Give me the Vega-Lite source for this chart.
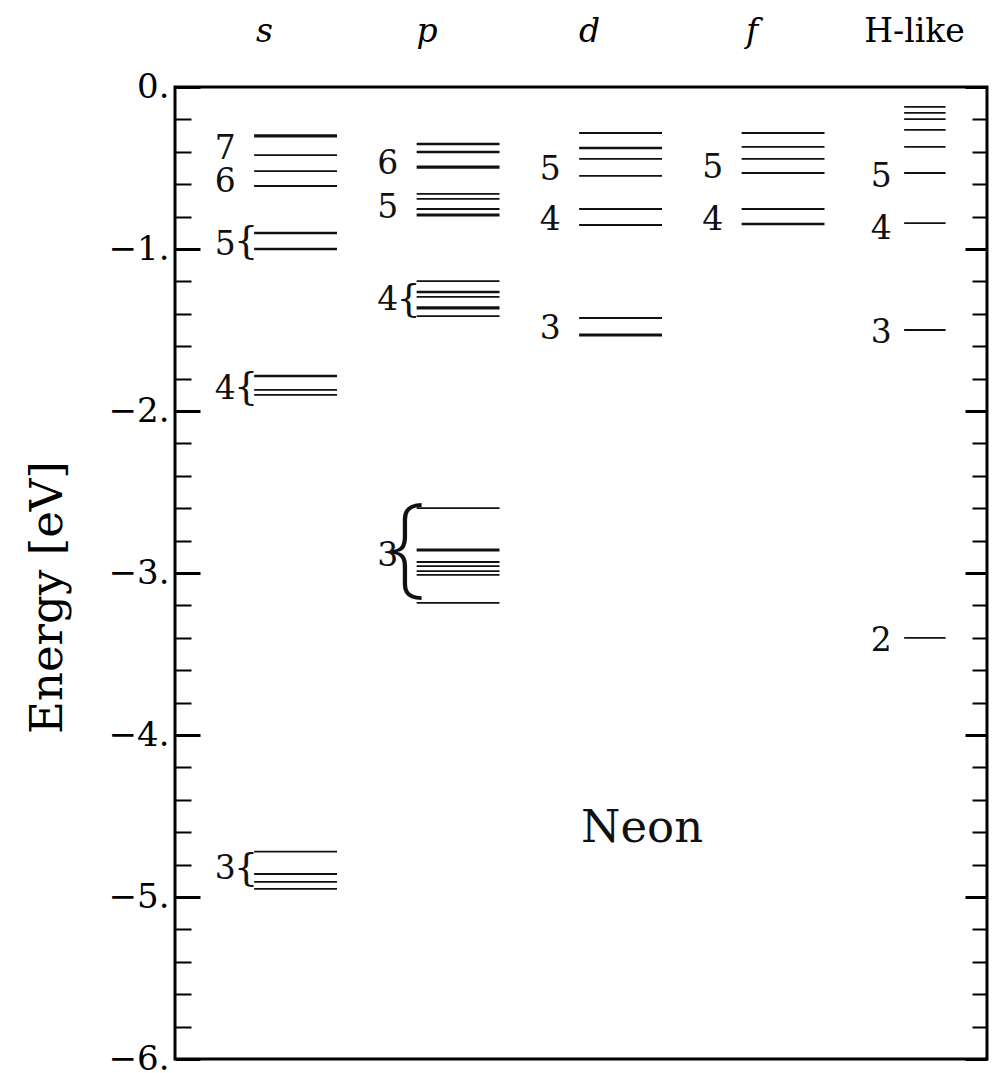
{
  "$schema": "https://vega.github.io/schema/vega-lite/v6.json",
  "autosize": {"type": "none"},
  "padding": {"left": 175, "top": 87, "right": 6, "bottom": 14},
  "width": 812,
  "height": 972,
  "background": "white",
  "config": {"view": {"stroke": "black", "strokeWidth": 3}},
  "datasets": {
    "levels": [
      {"col": "s", "E": -0.302, "w": 3}, {"col": "s", "E": -0.42, "w": 1}, {"col": "s", "E": -0.519, "w": 1}, {"col": "s", "E": -0.611, "w": 1},
      {"col": "s", "E": -0.901, "w": 2}, {"col": "s", "E": -1.0, "w": 2},
      {"col": "s", "E": -1.784, "w": 2}, {"col": "s", "E": -1.87, "w": 1}, {"col": "s", "E": -1.9, "w": 1},
      {"col": "s", "E": -4.72, "w": 1}, {"col": "s", "E": -4.858, "w": 1}, {"col": "s", "E": -4.907, "w": 1}, {"col": "s", "E": -4.95, "w": 1},
      {"col": "p", "E": -0.352, "w": 2}, {"col": "p", "E": -0.401, "w": 2}, {"col": "p", "E": -0.494, "w": 3},
      {"col": "p", "E": -0.66, "w": 1}, {"col": "p", "E": -0.691, "w": 1}, {"col": "p", "E": -0.753, "w": 1}, {"col": "p", "E": -0.79, "w": 3},
      {"col": "p", "E": -1.198, "w": 1}, {"col": "p", "E": -1.265, "w": 2}, {"col": "p", "E": -1.296, "w": 1}, {"col": "p", "E": -1.364, "w": 3}, {"col": "p", "E": -1.414, "w": 1},
      {"col": "p", "E": -2.599, "w": 1}, {"col": "p", "E": -2.858, "w": 3}, {"col": "p", "E": -2.932, "w": 1}, {"col": "p", "E": -2.957, "w": 1},
      {"col": "p", "E": -2.988, "w": 1}, {"col": "p", "E": -3.012, "w": 1}, {"col": "p", "E": -3.185, "w": 1},
      {"col": "d", "E": -0.284, "w": 1}, {"col": "d", "E": -0.377, "w": 2}, {"col": "d", "E": -0.444, "w": 1}, {"col": "d", "E": -0.549, "w": 1},
      {"col": "d", "E": -0.753, "w": 1}, {"col": "d", "E": -0.852, "w": 1}, {"col": "d", "E": -1.426, "w": 1}, {"col": "d", "E": -1.531, "w": 3},
      {"col": "f", "E": -0.284, "w": 1}, {"col": "f", "E": -0.37, "w": 1}, {"col": "f", "E": -0.444, "w": 1}, {"col": "f", "E": -0.531, "w": 1},
      {"col": "f", "E": -0.753, "w": 1}, {"col": "f", "E": -0.846, "w": 2},
      {"col": "H-like", "E": -0.123, "w": 1}, {"col": "H-like", "E": -0.16, "w": 1}, {"col": "H-like", "E": -0.198, "w": 1},
      {"col": "H-like", "E": -0.265, "w": 1}, {"col": "H-like", "E": -0.37, "w": 1}, {"col": "H-like", "E": -0.531, "w": 1},
      {"col": "H-like", "E": -0.84, "w": 1}, {"col": "H-like", "E": -1.5, "w": 1}, {"col": "H-like", "E": -3.4, "w": 1}
    ],
    "numbers": [
      {"col": "s", "n": "7", "E": -0.383}, {"col": "s", "n": "6", "E": -0.586}, {"col": "s", "n": "5", "E": -0.975},
      {"col": "s", "n": "4", "E": -1.864}, {"col": "s", "n": "3", "E": -4.827},
      {"col": "p", "n": "6", "E": -0.478}, {"col": "p", "n": "5", "E": -0.747}, {"col": "p", "n": "4", "E": -1.315}, {"col": "p", "n": "3", "E": -2.895},
      {"col": "d", "n": "5", "E": -0.512}, {"col": "d", "n": "4", "E": -0.82}, {"col": "d", "n": "3", "E": -1.494},
      {"col": "f", "n": "5", "E": -0.5}, {"col": "f", "n": "4", "E": -0.82},
      {"col": "H-like", "n": "5", "E": -0.556}, {"col": "H-like", "n": "4", "E": -0.877}, {"col": "H-like", "n": "3", "E": -1.519}, {"col": "H-like", "n": "2", "E": -3.42}
    ],
    "braces": [
      {"col": "s", "n": "5", "E": -0.957}, {"col": "s", "n": "4", "E": -1.858}, {"col": "s", "n": "3", "E": -4.827},
      {"col": "p", "n": "4", "E": -1.315}, {"col": "p", "n": "3", "E": -2.877}
    ],
    "title": [{"col": "d", "label": "Neon", "E": -4.574}]
  },
  "resolve": {"axis": {"y": "independent"}},
  "layer": [
    {
      "data": {"name": "levels"},
      "transform": [{"filter": "datum.col != 'H-like'"}],
      "mark": {"type": "rule", "color": "#111111"},
      "encoding": {
        "x": {
          "field": "col", "type": "nominal", "bandPosition": 0,
          "scale": {"type": "band", "domain": ["s", "p", "d", "f", "H-like"], "paddingInner": 0.49, "paddingOuter": 0.2435, "align": 1, "round": false},
          "axis": {
            "orient": "top", "ticks": false, "domain": false, "grid": false, "title": null,
            "labelAngle": 0, "labelOffset": -31, "labelAlign": "center", "labelBaseline": "alphabetic", "labelPadding": 46,
            "labelFont": "DejaVu Serif", "labelFontSize": 33, "labelColor": "black", "labelBound": false, "labelOverlap": false,
            "labelFontStyle": {"condition": {"test": "datum.value == 'H-like'", "value": "normal"}, "value": "italic"}
          }
        },
        "x2": {"field": "col", "bandPosition": 1},
        "y": {
          "field": "E", "type": "quantitative",
          "scale": {"domain": [-6, 0], "nice": false, "zero": false},
          "axis": {
            "orient": "left", "domain": false, "grid": false,
            "values": [0, -0.2, -0.4, -0.6, -0.8, -1, -1.2, -1.4, -1.6, -1.8, -2, -2.2, -2.4, -2.6, -2.8, -3, -3.2, -3.4, -3.6, -3.8, -4, -4.2, -4.4, -4.6, -4.8, -5, -5.2, -5.4, -5.6, -5.8, -6],
            "tickColor": "black",
            "tickSize": {"condition": {"test": "abs(datum.value - round(datum.value)) < 0.01", "value": -25}, "value": -16},
            "tickWidth": {"condition": {"test": "abs(datum.value - round(datum.value)) < 0.01", "value": 3}, "value": 2},
            "labelExpr": "abs(datum.value - round(datum.value)) < 0.01 ? (datum.value == 0 ? '0.' : '−' + format(-datum.value, 'd') + '.') : ''",
            "labelOverlap": false, "labelFlush": false, "labelBound": false,
            "labelFont": "DejaVu Serif", "labelFontSize": 34, "labelColor": "black", "labelPadding": 31,
            "title": "Energy [eV]", "titleFont": "DejaVu Serif", "titleFontSize": 45, "titleFontWeight": "normal", "titleColor": "black",
            "titleX": -128, "titleY": 510, "titleBaseline": "middle", "titleAlign": "center", "titleAngle": -90
          }
        },
        "strokeWidth": {"field": "w", "type": "ordinal", "scale": {"domain": [1, 2, 3], "range": [1.8, 3.2, 4.6]}, "legend": null}
      }
    },
    {
      "data": {"name": "levels"},
      "transform": [{"filter": "datum.col == 'H-like'"}],
      "mark": {"type": "rule", "color": "#111111"},
      "encoding": {
        "x": {"field": "col", "type": "nominal", "bandPosition": 0},
        "x2": {"field": "col", "bandPosition": 0.5},
        "y": {
          "field": "E", "type": "quantitative",
          "axis": {
            "orient": "right", "domain": false, "grid": false, "labels": false, "title": null,
            "values": [0, -0.2, -0.4, -0.6, -0.8, -1, -1.2, -1.4, -1.6, -1.8, -2, -2.2, -2.4, -2.6, -2.8, -3, -3.2, -3.4, -3.6, -3.8, -4, -4.2, -4.4, -4.6, -4.8, -5, -5.2, -5.4, -5.6, -5.8, -6],
            "tickColor": "black",
            "tickSize": {"condition": {"test": "abs(datum.value - round(datum.value)) < 0.01", "value": -22}, "value": -15},
            "tickWidth": {"condition": {"test": "abs(datum.value - round(datum.value)) < 0.01", "value": 3}, "value": 2}
          }
        },
        "strokeWidth": {"field": "w", "type": "ordinal", "legend": null}
      }
    },
    {
      "data": {"name": "numbers"},
      "transform": [{"filter": "datum.col != 'H-like'"}],
      "mark": {"type": "text", "font": "DejaVu Serif", "fontSize": 33, "align": "center", "baseline": "middle", "dx": -29, "color": "#111111"},
      "encoding": {
        "x": {"field": "col", "type": "nominal", "bandPosition": 0},
        "y": {"field": "E", "type": "quantitative", "axis": null},
        "text": {"field": "n"}
      }
    },
    {
      "data": {"name": "numbers"},
      "transform": [{"filter": "datum.col == 'H-like'"}],
      "mark": {"type": "text", "font": "DejaVu Serif", "fontSize": 33, "align": "center", "baseline": "middle", "dx": -23, "color": "#111111"},
      "encoding": {
        "x": {"field": "col", "type": "nominal", "bandPosition": 0},
        "y": {"field": "E", "type": "quantitative", "axis": null},
        "text": {"field": "n"}
      }
    },
    {
      "data": {"name": "braces"},
      "transform": [{"filter": "!(datum.col == 'p' && datum.n == '3')"}],
      "mark": {"type": "text", "text": "{", "font": "DejaVu Serif", "fontSize": 38, "align": "center", "baseline": "middle", "dx": -8, "color": "#111111"},
      "encoding": {
        "x": {"field": "col", "type": "nominal", "bandPosition": 0},
        "y": {"field": "E", "type": "quantitative", "axis": null}
      }
    },
    {
      "data": {"name": "braces"},
      "transform": [{"filter": "datum.col == 'p' && datum.n == '3'"}],
      "mark": {"type": "text", "text": "{", "font": "Noto Sans", "fontSize": 110, "fontWeight": 200, "align": "center", "baseline": "middle", "dx": -10, "dy": -4, "color": "#111111"},
      "encoding": {
        "x": {"field": "col", "type": "nominal", "bandPosition": 0},
        "y": {"field": "E", "type": "quantitative", "axis": null}
      }
    },
    {
      "data": {"name": "title"},
      "mark": {"type": "text", "font": "DejaVu Serif", "fontSize": 45, "align": "center", "baseline": "middle", "color": "#111111"},
      "encoding": {
        "x": {"field": "col", "type": "nominal", "bandPosition": 0.76},
        "y": {"field": "E", "type": "quantitative", "axis": null},
        "text": {"field": "label"}
      }
    }
  ]
}
